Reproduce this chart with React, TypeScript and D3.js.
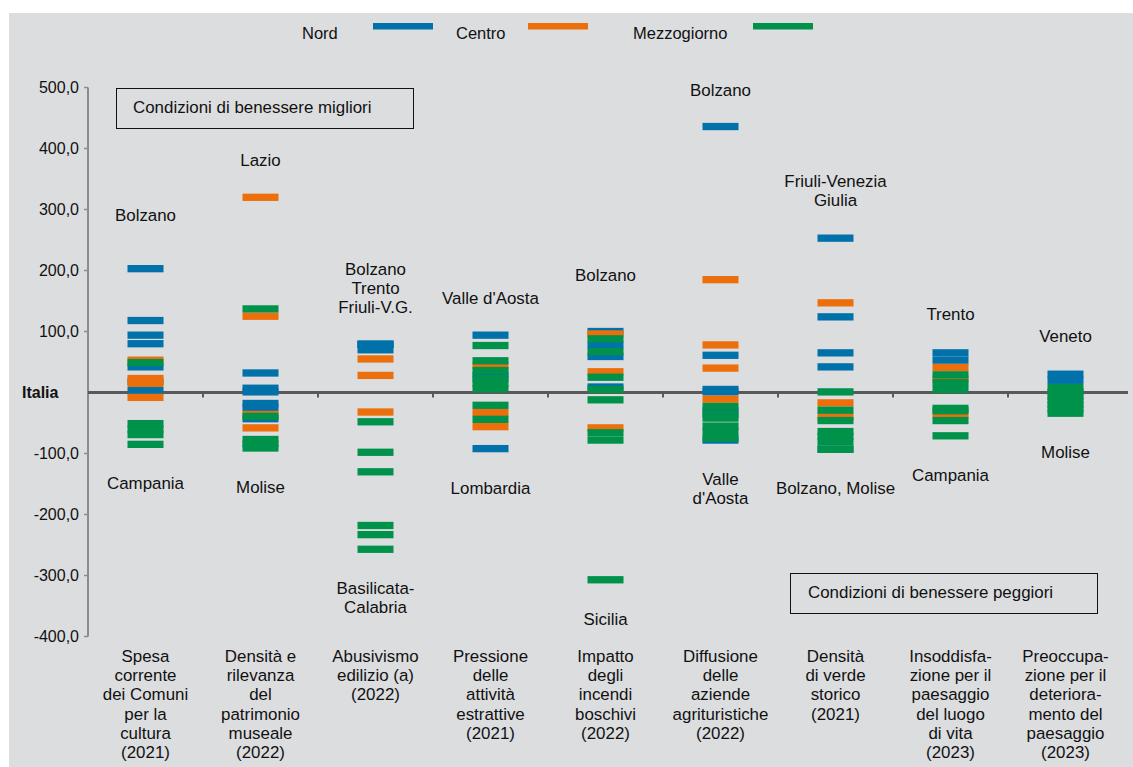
import React from 'react';
import * as d3 from 'd3';

// ---------- DATA ----------
const categories = [
  'Spesa corrente dei Comuni per la cultura (2021)',
  'Densità e rilevanza del patrimonio museale (2022)',
  'Abusivismo edilizio (a) (2022)',
  'Pressione delle attività estrattive (2021)',
  'Impatto degli incendi boschivi (2022)',
  'Diffusione delle aziende agrituristiche (2022)',
  'Densità di verde storico (2021)',
  'Insoddisfazione per il paesaggio del luogo di vita (2023)',
  'Preoccupazione per il deterioramento del paesaggio (2023)',
];

const categoryLines = [
  ['Spesa', 'corrente', 'dei Comuni', 'per la', 'cultura', '(2021)'],
  ['Densità e', 'rilevanza', 'del', 'patrimonio', 'museale', '(2022)'],
  ['Abusivismo', 'edilizio (a)', '(2022)'],
  ['Pressione', 'delle', 'attività', 'estrattive', '(2021)'],
  ['Impatto', 'degli', 'incendi', 'boschivi', '(2022)'],
  ['Diffusione', 'delle', 'aziende', 'agrituristiche', '(2022)'],
  ['Densità', 'di verde', 'storico', '(2021)'],
  ['Insoddisfa-', 'zione per il', 'paesaggio', 'del luogo', 'di vita', '(2023)'],
  ['Preoccupa-', 'zione per il', 'deteriora-', 'mento del', 'paesaggio', '(2023)'],
];

const nordValues = [
  [203, 118, 94, 80, 42, 3, 18],
  [32, 7, 1, -18, -25, -43],
  [79, 79, 79, 70],
  [94, 28, -92],
  [100, 78, 59, 9],
  [436, 61, 5, 1, -30, -78],
  [253, 124, 65, 42, -93],
  [65, 53],
  [30, 20],
];

const centroValues = [
  [53, 23, 15, -8],
  [320, 125, -36, -58],
  [55, 28, -32],
  [44, -33, -56],
  [96, 34, -58],
  [185, 78, 40, -11],
  [147, -17, -40],
  [41, 22, -36],
  [],
];

const mezzoValues = [
  [49, -51, -60, -69, -85],
  [137, -39, -77, -84, -91],
  [-48, -98, -130, -218, -233, -257],
  [77, 52, 36, 23, 15, 6, -21, -44],
  [88, 67, 25, 5, -12, -66, -78, -307],
  [-23, -36, -42, -55, -64, -75],
  [1, -29, -46, -64, -72, -81, -93],
  [29, 16, 5, -26, -30, -46, -71],
  [8, 1, -6, -13, -20, -27, -34],
];

const topLabels = [
  ['Bolzano'],
  ['Lazio'],
  ['Bolzano', 'Trento', 'Friuli-V.G.'],
  ["Valle d'Aosta"],
  ['Bolzano'],
  ['Bolzano'],
  ['Friuli-Venezia', 'Giulia'],
  ['Trento'],
  ['Veneto'],
];

const bottomLabels = [
  ['Campania'],
  ['Molise'],
  ['Basilicata-', 'Calabria'],
  ['Lombardia'],
  ['Sicilia'],
  ['Valle', "d'Aosta"],
  ['Bolzano, Molise'],
  ['Campania'],
  ['Molise'],
];

const yTicks = [500, 400, 300, 200, 100, -100, -200, -300, -400];

const seriesNames = ['Nord', 'Centro', 'Mezzogiorno'];

// ---------- STYLE / LAYOUT ----------
const W = 1133;
const H = 767;
const colors = ['#0071a9', '#ec6f0b', '#00924a'];
const bg = '#dcdddf';
const font = '"Liberation Sans", Arial, sans-serif';
const fs = 16.9;
const tickFs = 16;
const topLabelGap = [54, 37, 37, 37, 57, 37, 38, 39, 38];

export default function App() {
  const y = d3.scaleLinear().domain([-400, 500]).range([636.5, 87.5]);
  const x = d3.scaleBand<string>().domain(categories).range([88, 1123]).padding(0);
  const barW = 36;
  const barH = 7.3;
  const lineH = 19.2;
  const all = [nordValues, centroValues, mezzoValues];

  const boundaries = categories.slice(1).map((c) => x(c) as number);

  return (
    <div style={{ position: 'absolute', left: 0, top: 0, width: W, height: H }}>
      <svg width={W} height={H} style={{ display: 'block', fontFamily: font }}>
        <rect x={0} y={0} width={W} height={H} fill="#ffffff" />
        <rect x={9} y={13} width={W - 9} height={H - 13} fill={bg} />

        {/* Legend */}
        {seriesNames.map((name, i) => {
          const tx = [302, 456, 633][i];
          const sx = [373, 528, 753][i];
          return (
            <g key={name}>
              <text x={tx} y={39} fontSize={16.5} fill="#111">{name}</text>
              <rect x={sx} y={23} width={60} height={6.5} fill={colors[i]} />
            </g>
          );
        })}

        {/* Y axis */}
        <line x1={88} x2={88} y1={y(500)} y2={y(-400)} stroke="#8c8c8c" strokeWidth={2} />
        {yTicks.map((t) => (
          <g key={t}>
            <line x1={84} x2={88} y1={y(t)} y2={y(t)} stroke="#8c8c8c" strokeWidth={1.5} />
            <text x={79} y={y(t) + 5.5} textAnchor="end" fontSize={tickFs} fill="#111">
              {t.toFixed(1).replace('.', ',')}
            </text>
          </g>
        ))}
        <text x={22} y={y(0) + 5.5} fontSize={tickFs} fontWeight="bold" fill="#111">Italia</text>

        {/* Zero line */}
        <line x1={88} x2={1128} y1={y(0)} y2={y(0)} stroke="#595959" strokeWidth={3} />
        {boundaries.map((bx, i) => (
          <line key={i} x1={bx} x2={bx} y1={y(0)} y2={y(0) + 5} stroke="#595959" strokeWidth={2} />
        ))}

        {/* Bars */}
        {all.map((series, si) =>
          series.map((vals, ci) =>
            vals.map((v, k) => (
              <rect
                key={`${si}-${ci}-${k}`}
                x={(x(categories[ci]) as number) + x.bandwidth() / 2 - barW / 2}
                y={y(v) - barH / 2}
                width={barW}
                height={barH}
                fill={colors[si]}
              />
            ))
          )
        )}

        {/* Region labels */}
        {categories.map((c, ci) => {
          const cx = (x(c) as number) + x.bandwidth() / 2;
          const allVals = [...nordValues[ci], ...centroValues[ci], ...mezzoValues[ci]];
          const maxV = d3.max(allVals) as number;
          const minV = d3.min(allVals) as number;
          const tl = topLabels[ci];
          const lastY = y(maxV) - topLabelGap[ci];
          const firstBottom = y(minV) + 39;
          return (
            <g key={c}>
              {tl.map((t, li) => (
                <text key={li} x={cx} y={lastY - (tl.length - 1 - li) * lineH + 6} textAnchor="middle" fontSize={fs} fill="#111">
                  {t}
                </text>
              ))}
              {bottomLabels[ci].map((t, li) => (
                <text key={'b' + li} x={cx} y={firstBottom + li * lineH + 6} textAnchor="middle" fontSize={fs} fill="#111">
                  {t}
                </text>
              ))}
              {categoryLines[ci].map((t, li) => (
                <text key={'c' + li} x={cx} y={656 + li * lineH + 6} textAnchor="middle" fontSize={fs} fill="#111">
                  {t}
                </text>
              ))}
            </g>
          );
        })}

        {/* Boxes */}
        <rect x={116.5} y={88.5} width={297} height={40} fill="none" stroke="#111" strokeWidth={1} />
        <text x={133} y={113} fontSize={fs} fill="#111">Condizioni di benessere migliori</text>
        <rect x={790.5} y={573.5} width={307} height={40} fill="none" stroke="#111" strokeWidth={1} />
        <text x={808} y={598} fontSize={fs} fill="#111">Condizioni di benessere peggiori</text>
      </svg>
    </div>
  );
}
